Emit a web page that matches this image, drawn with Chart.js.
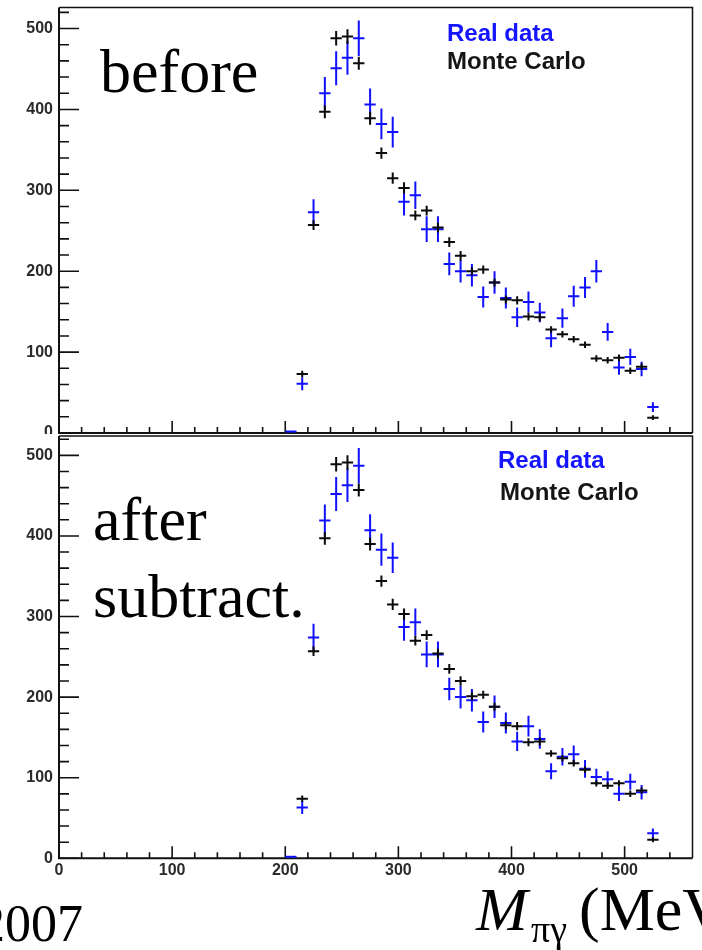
<!DOCTYPE html>
<html><head><meta charset="utf-8">
<script src="https://cdn.jsdelivr.net/npm/chart.js@4.4.0/dist/chart.umd.min.js"></script>
<style>
html,body{margin:0;padding:0;background:#fff;width:702px;height:950px;overflow:hidden;position:relative;}
canvas{position:absolute;left:0;}
#c1{top:0;}
#c2{top:434px;background:#fff;}
.t{position:absolute;white-space:nowrap;line-height:1;margin:0;}
.serif{font-family:"Liberation Serif","Times New Roman",serif;color:#000;font-size:62px;}
.leg{font-family:"Liberation Sans",Arial,sans-serif;font-weight:bold;font-size:24px;}
.blue{color:#1414ff;}
.dark{color:#151515;}
</style></head>
<body>
<canvas id="c1" width="702" height="435"></canvas>
<canvas id="c2" width="702" height="516"></canvas>

<div class="t serif" style="left:100px;top:39.8px;">before</div>
<div class="t leg blue" style="left:447px;top:20.7px;">Real data</div>
<div class="t leg dark" style="left:447px;top:49px;">Monte Carlo</div>

<div class="t serif" style="left:93px;top:488.1px;">after</div>
<div class="t serif" style="left:93px;top:564.8px;">subtract.</div>
<div class="t leg blue" style="left:498px;top:448px;">Real data</div>
<div class="t leg dark" style="left:500px;top:480.4px;">Monte Carlo</div>

<div class="t serif" style="right:619px;top:898.2px;font-size:52px;">2007</div>
<div class="t serif" style="left:476px;top:878px;font-style:italic;">M</div>
<div class="t serif" style="left:531px;top:909.9px;font-size:38px;">πγ</div>
<div class="t serif" style="left:579px;top:878px;">(MeV)</div>

<script>
// ---- data (bin centres in MeV) ----
const massBins = [205,215,225,235,245,255,265,275,285,295,305,315,325,335,345,355,365,375,385,395,405,415,425,435,445,455,465,475,485,495,505,515,525];

// "before" panel
const dataBefore    = [0,61,273,420,451,464,488,406,382,372,286,294,252,252,209,200,195,168,186,167,143,162,149,117,142,169,180,200,125,81,94,79,32];
const dataBeforeErr = [0,8,16,20,21,21,22,20,19,19,17,17,16,16,14,14,14,13,14,13,12,13,12,11,12,13,13,14,11,9,10,9,6];
const mcBefore      = [null,73,257,397,488,490,457,389,346,315,303,269,275,254,236,219,200,202,186,165,164,144,143,128,122,116,109,92,90,93,77,82,19];
const mcBeforeErr   = [null,4,6,8,9,9,8,8,7,7,7,6,6,6,6,6,5,5,5,5,5,5,5,4,4,4,4,4,4,4,4,4,3];

// "after subtract." panel
const dataAfter     = [0,63,274,419,452,463,487,407,383,373,287,293,253,253,210,200,196,169,188,168,145,164,148,108,126,129,111,101,98,80,95,82,31];
const dataAfterErr  = [0,8,17,20,21,21,22,20,20,19,17,17,16,16,14,14,14,13,14,13,12,13,12,10,11,11,11,10,10,9,10,9,6];
const mcAfter       = [null,74,257,397,489,491,457,390,344,315,303,270,277,254,235,220,201,203,188,165,164,144,145,130,124,118,110,93,90,93,80,84,23];
const mcAfterErr    = [null,4,6,8,9,9,8,8,7,7,7,6,6,6,6,6,5,5,5,5,5,5,5,4,4,4,4,4,4,4,4,4,3];

// axis tick labels
const xTickLabels = [0,100,200,300,400,500];
const yTickLabels = [0,100,200,300,400,500];
const xMinorStep = 20;
const yMinorStep = 20;
const binHalfWidth = 5;

const BLUE = '#1010ff';
const BLACK = '#0a0a0a';

function series(vals, errs){
  const out = [];
  massBins.forEach((b,i)=>{ if(vals[i]!==null) out.push({x:b, y:vals[i], e:errs[i]}); });
  return out;
}

const framePlugin = {
  id:'frame',
  afterDraw(chart){
    const ctx = chart.ctx, a = chart.chartArea, xs = chart.scales.x, ys = chart.scales.y;
    ctx.save();
    ctx.strokeStyle = '#111';
    ctx.lineWidth = 1.5;
    ctx.beginPath();
    ctx.moveTo(a.left, a.top); ctx.lineTo(a.right, a.top); ctx.lineTo(a.right, a.bottom);
    ctx.stroke();
    ctx.lineWidth = 2;
    ctx.beginPath();
    ctx.moveTo(a.left, a.top); ctx.lineTo(a.left, a.bottom); ctx.lineTo(a.right, a.bottom);
    ctx.stroke();
    ctx.lineWidth = 1.6;
    ctx.beginPath();
    for (let v = ys.min; v <= ys.max; v += yMinorStep) {
      const p = ys.getPixelForValue(v);
      const len = yTickLabels.includes(v) ? 20 : 10;
      ctx.moveTo(a.left, p); ctx.lineTo(a.left + len, p);
    }
    for (let v = xs.min; v < xs.max; v += xMinorStep) {
      const p = xs.getPixelForValue(v);
      const len = xTickLabels.includes(v) ? 12 : 6;
      ctx.moveTo(p, a.bottom); ctx.lineTo(p, a.bottom - len);
    }
    ctx.stroke();
    ctx.restore();
  }
};

const errPlugin = {
  id:'errbars',
  afterDraw(chart){
    const ctx = chart.ctx, xs = chart.scales.x, ys = chart.scales.y;
    chart.data.datasets.forEach((ds,i)=>{
      const meta = chart.getDatasetMeta(i);
      ctx.save();
      ctx.strokeStyle = ds.borderColor;
      ctx.lineWidth = 2;
      ctx.lineCap = 'butt';
      meta.data.forEach((el,j)=>{
        const d = ds.data[j];
        const x = el.x;
        let y = el.y;
        if (d.y === 0) y -= 1.5; // zero-content bin sits just above the axis line
        const xl = xs.getPixelForValue(d.x - binHalfWidth);
        const xr = xs.getPixelForValue(d.x + binHalfWidth);
        const yt = ys.getPixelForValue(d.y + d.e);
        const yb = ys.getPixelForValue(d.y - d.e);
        ctx.beginPath();
        ctx.moveTo(xl, y); ctx.lineTo(xr, y);
        if (d.e > 0) { ctx.moveTo(x, yt); ctx.lineTo(x, yb); }
        ctx.stroke();
      });
      ctx.restore();
    });
  }
};

const tickFont = {family:'"Liberation Sans", Arial, sans-serif', size:16, weight:'bold'};

function makeChart(id, cfg){
  return new Chart(document.getElementById(id), {
    type:'scatter',
    data:{datasets:[
      {label:'Real data', data:series(cfg.data, cfg.dataErr), borderColor:BLUE, backgroundColor:BLUE, pointRadius:0, pointHoverRadius:0, showLine:false},
      {label:'Monte Carlo', data:series(cfg.mc, cfg.mcErr), borderColor:BLACK, backgroundColor:BLACK, pointRadius:0, pointHoverRadius:0, showLine:false}
    ]},
    options:{
      responsive:false, animation:false, devicePixelRatio:1,
      layout:{padding:{left:0, right:9.5, top:cfg.padTop, bottom:0}},
      plugins:{legend:{display:false}, tooltip:{enabled:false}},
      events:[],
      scales:{
        x:{type:'linear', min:0, max:560,
           grid:{display:false, drawTicks:false}, border:{display:false},
           ticks:{display:cfg.showX, font:tickFont, color:'#2a2a2a', padding:3, maxRotation:0, autoSkip:false},
           afterBuildTicks:s=>{ s.ticks = xTickLabels.map(v=>({value:v})); },
           afterFit:s=>{ s.height = cfg.xH; s.paddingLeft = 0; s.paddingRight = 0; s.paddingTop = 0; s.paddingBottom = 0; }},
        y:{type:'linear', min:0, max:cfg.yMax,
           grid:{display:false, drawTicks:false}, border:{display:false},
           ticks:{font:tickFont, color:'#2a2a2a', padding:6, autoSkip:false},
           afterBuildTicks:s=>{ s.ticks = yTickLabels.map(v=>({value:v})); },
           afterFit:s=>{ s.width = 59; s.paddingTop = 0; s.paddingBottom = 0; s.paddingLeft = 0; s.paddingRight = 0; }}
      }
    },
    plugins:[framePlugin, errPlugin]
  });
}

makeChart('c1', {data:dataBefore, dataErr:dataBeforeErr, mc:mcBefore, mcErr:mcBeforeErr, padTop:7.5, xH:2, yMax:526, showX:false});
makeChart('c2', {data:dataAfter, dataErr:dataAfterErr, mc:mcAfter, mcErr:mcAfterErr, padTop:2, xH:91.7, yMax:524, showX:true});
</script>
</body></html>
